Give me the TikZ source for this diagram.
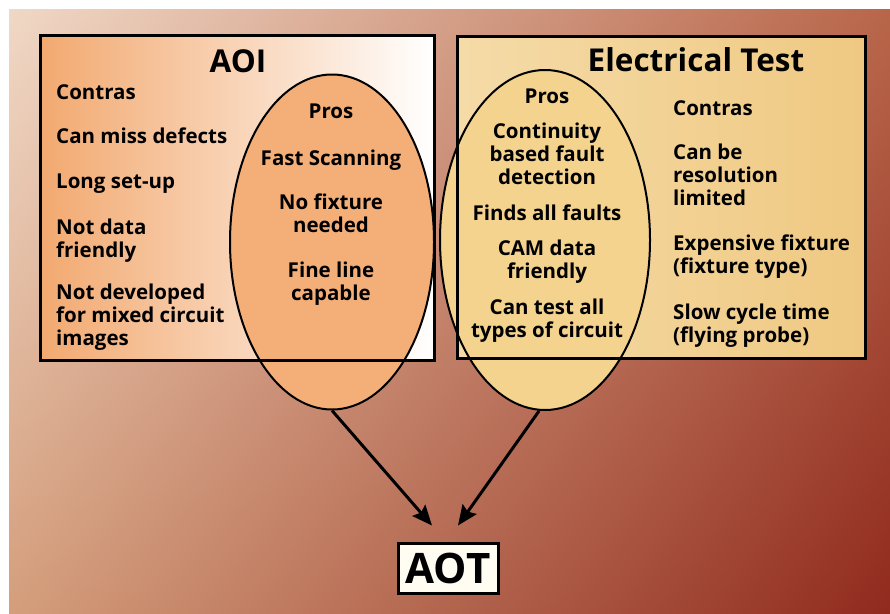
\documentclass[tikz,border=0pt]{standalone}
\usepackage{fontspec}
\setmainfont{Open Sans}
\usetikzlibrary{shapes, shadings, arrows.meta, positioning}

\definecolor{bgtl}{HTML}{F0D8C6}
\definecolor{bgtr}{HTML}{B8664A}
\definecolor{bgbl}{HTML}{D49E7C}
\definecolor{bgbr}{HTML}{902A1E}
\definecolor{aoileft}{HTML}{F2A970}
\definecolor{aoipro}{HTML}{F4AE78}
\definecolor{etleft}{HTML}{F5DBA8}
\definecolor{etmid}{HTML}{FFF6E4}
\definecolor{etright}{HTML}{EFC982}
\definecolor{etpro}{HTML}{F3D38E}
\definecolor{aotfill}{HTML}{FFFCF2}

\newcommand{\itemfont}{\fontsize{20.5}{23}\selectfont\bfseries}

\begin{document}
\begin{tikzpicture}[x=1pt, y=-1pt, >={Stealth[length=20pt, width=17pt, inset=3pt]},
    frame/.style={line width=3.3pt},
    bubble/.style={ellipse, draw, line width=2pt, inner sep=0pt},
    contra/.style={anchor=base west, align=left, font=\itemfont, inner sep=0pt},
    pro/.style={anchor=base, align=center, font=\itemfont, inner sep=0pt},
    heading/.style={anchor=base, font=\fontsize{31.5}{32}\selectfont\bfseries}]
\useasboundingbox (0,0) rectangle (890,613);
% background
\shade[upper left=bgtl, upper right=bgtr, lower left=bgbl, lower right=bgbr]
    (9,9) rectangle (890,613);
%
% the two boxes, frames drawn again over the ellipses
\node[left color=aoileft, right color=white, minimum width=393pt, minimum height=324pt] (aoibox) at (237.5,198) {};
\node[left color=etleft, middle color=etmid, right color=etright, minimum width=407pt, minimum height=321pt] (etbox) at (661.5,197.5) {};
\node[bubble, fill=aoipro, minimum width=204pt, minimum height=335pt] (aoipros) at (332,242) {};
\node[bubble, fill=etpro, minimum width=210pt, minimum height=340pt] (etpros) at (545,240) {};
\draw[frame] (aoibox.north west) rectangle (aoibox.south east);
\draw[frame] (etbox.north west) rectangle (etbox.south east);
%
\node[heading] (aoi) at (238,72) {AOI};
\node[heading] (et) at (696,71) {Electrical Test};
%
% AOI (multi-line texts sit on their last line)
\node[contra] (aoic) at (56,99) {Contras};
\node[contra] (aoic1) at (56,143) {Can miss defects};
\node[contra] (aoic2) at (56,188) {Long set-up};
\node[contra] (aoic3) at (56,257) {Not data\\friendly};
\node[contra] (aoic4) at (56,345) {Not developed\\for mixed circuit\\images};
\node[pro] (aoip) at (331,118) {Pros};
\node[pro] (aoip1) at (331,165) {Fast Scanning};
\node[pro] (aoip2) at (331,232) {No fixture\\needed};
\node[pro] (aoip3) at (331,300) {Fine line\\capable};
%
% Electrical Test
\node[pro] (etp) at (547,103) {Pros};
\node[pro] (etp1) at (547,184) {Continuity\\based fault\\detection};
\node[pro] (etp2) at (547,220) {Finds all faults};
\node[pro] (etp3) at (547,278) {CAM data\\friendly};
\node[pro] (etp4) at (547,337) {Can test all\\types of circuit};
\node[contra] (etc) at (673,115) {Contras};
\node[contra] (etc1) at (673,205) {Can be\\resolution\\limited};
\node[contra] (etc2) at (673,273) {Expensive fixture\\(fixture type)};
\node[contra] (etc3) at (673,342) {Slow cycle time\\(flying probe)};
%
\node[draw, line width=3pt, fill=aotfill, minimum width=100pt, minimum height=50pt, inner sep=2pt,
    font=\fontsize{42}{44}\selectfont\bfseries] (aot) at (448,568) {AOT};
\draw[->, line width=3pt] (aoipros.south) -- ([xshift=-16pt, yshift=16pt]aot.north);
\draw[->, line width=3pt] ([xshift=-6pt]etpros.south) -- ([xshift=10pt, yshift=16pt]aot.north);
\end{tikzpicture}
\end{document}
